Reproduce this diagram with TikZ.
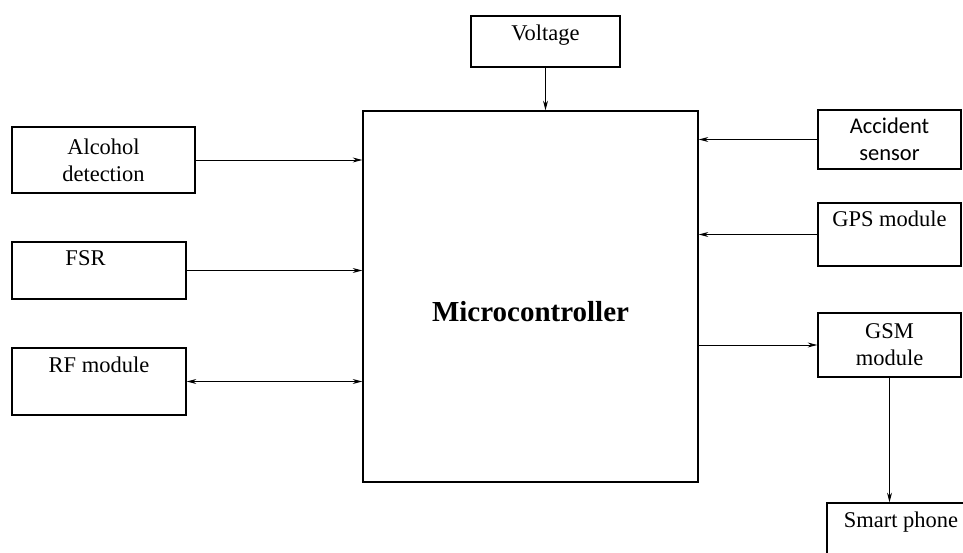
\documentclass[tikz,border=0pt]{standalone}
\usepackage{fontspec}
\setmainfont{Liberation Serif}
\newfontfamily\calfont{Carlito}
\usetikzlibrary{arrows.meta, positioning}

\begin{document}
\begin{tikzpicture}[x=0.02cm, y=-0.02cm,
  blk/.style={draw, rectangle, line width=0.75pt, font=\fontsize{12.8}{15.3}\selectfont, align=center},
  up/.style={text height=8pt, text depth=#1},
  link/.style={line width=0.5pt, -{Stealth[length=5.5pt, width=2.8pt]}}]
  \useasboundingbox (0,0) rectangle (963,553);
  \clip (0,0) rectangle (963,553);

  % Main boxes
  \node[blk, minimum width=6.7cm, minimum height=7.42cm, font=\fontsize{16.5}{19}\selectfont\bfseries, text height=29pt, text depth=0pt] (micro) at (530.5,296.5) {Microcontroller};
  \node[blk, up=9.6pt, minimum width=2.98cm, minimum height=1.02cm] (volt) at (545.5,41.5) {Voltage};

  % Inputs on the left
  \node[blk, minimum width=3.66cm, minimum height=1.32cm] (alc) at (103.5,160) {Alcohol\\detection};
  \node[blk, up=14.2pt, minimum width=3.48cm, minimum height=1.14cm] (fsr) at (99,270.5) {FSR\hspace{1.2em}};
  \node[blk, up=18.7pt, minimum width=3.48cm, minimum height=1.34cm] (rf) at (99,381.5) {RF module};

  % Modules on the right
  \node[blk, minimum width=2.86cm, minimum height=1.18cm, font=\fontsize{12.8}{15.3}\calfont] (acc) at (889.5,139.5) {Accident\\sensor};
  \node[blk, up=17.6pt, minimum width=2.86cm, minimum height=1.26cm] (gps) at (889.5,234.5) {GPS module};
  \node[blk, minimum width=2.86cm, minimum height=1.28cm] (gsm) at (889.5,345) {GSM\\module};
  \node[blk, up=26pt, minimum width=2.96cm, minimum height=1.6cm] (phone) at (901,543) {Smart phone};

  % Arrows
  \draw[link] (volt) -- (micro.north -| volt);
  \draw[link] (alc.east) -- (alc.east -| micro.west);
  \draw[link] (fsr.east) -- (fsr.east -| micro.west);
  \draw[link, {Stealth[length=5.5pt, width=2.8pt]}-{Stealth[length=5.5pt, width=2.8pt]}] (rf.east) -- (rf.east -| micro.west);
  \draw[link] (acc.west) -- (acc.west -| micro.east);
  \draw[link] (gps.west) -- (gps.west -| micro.east);
  \draw[link] (micro.east |- gsm.west) -- (gsm.west);
  \draw[link] (gsm.south) -- (gsm.south |- phone.north);
\end{tikzpicture}
\end{document}
